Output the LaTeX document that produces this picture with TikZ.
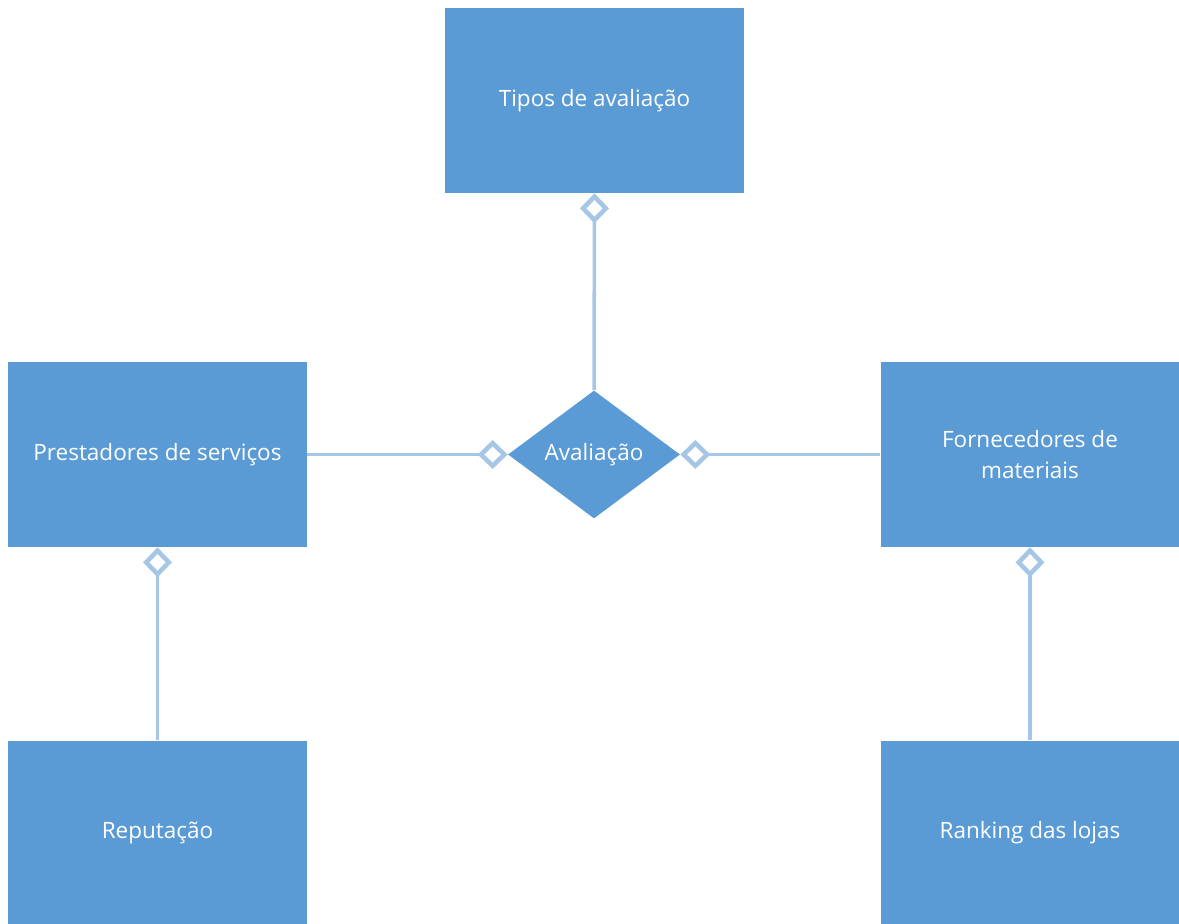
\documentclass[tikz,border=0pt]{standalone}
\usepackage{fontspec}
\setmainfont{Open Sans}
\usepackage{tikz}
\usetikzlibrary{arrows.meta}
\usetikzlibrary{shapes.geometric}

\definecolor{boxblue}{HTML}{5B9BD5}
\definecolor{linkblue}{HTML}{A6C6E6}

\tikzset{
  entity/.style={rectangle, fill=boxblue, text=white, minimum width=5.98cm,
    minimum height=3.7cm, inner sep=2pt, align=center,
    font=\fontsize{12.8}{18}\selectfont},
  relation/.style={diamond, fill=boxblue, text=white, shape aspect=1.34,
    minimum width=3.44cm, minimum height=2.56cm, inner sep=0pt,
    font=\fontsize{12.8}{18}\selectfont},
  link/.style={draw=linkblue, line width=2pt},
  agg/.tip={Diamond[open, length=0.6cm, width=0.58cm, line width=2.6pt]}
}

\begin{document}
\begin{tikzpicture}
\useasboundingbox (0,0) rectangle (23.58,-18.48);
\coordinate (t) at (11.89,-2.01);
\coordinate (p) at (3.15,-9.09);
\coordinate (f) at (20.60,-9.09);
\coordinate (r) at (3.15,-16.66);
\coordinate (k) at (20.60,-16.66);
\coordinate (v) at (11.88,-9.09);
% draws entities
\node[entity] (tipos) at (t) {Tipos de avalia\c{c}\~ao};
\node[entity] (prest) at (p) {Prestadores de servi\c{c}os};
\node[entity] (forn) at (f) {Fornecedores de\\materiais};
\node[entity] (rep) at (r) {Reputa\c{c}\~ao};
\node[entity] (rank) at (k) {Ranking das lojas};
% draws relation
\node[relation] (aval) at (v) {Avalia\c{c}\~ao};
% draws links
\begin{scope}[link]
\draw[{agg}-] (tipos.south) -- (aval.north);
\draw[-{agg}] (prest.east) -- (aval.west);
\draw[-{agg}] (forn.west) -- (aval.east);
\draw[-{agg}] (rep.north) -- (prest.south);
\draw[-{agg}] (rank.north) -- (forn.south);
\end{scope}
\end{tikzpicture}
\end{document}
